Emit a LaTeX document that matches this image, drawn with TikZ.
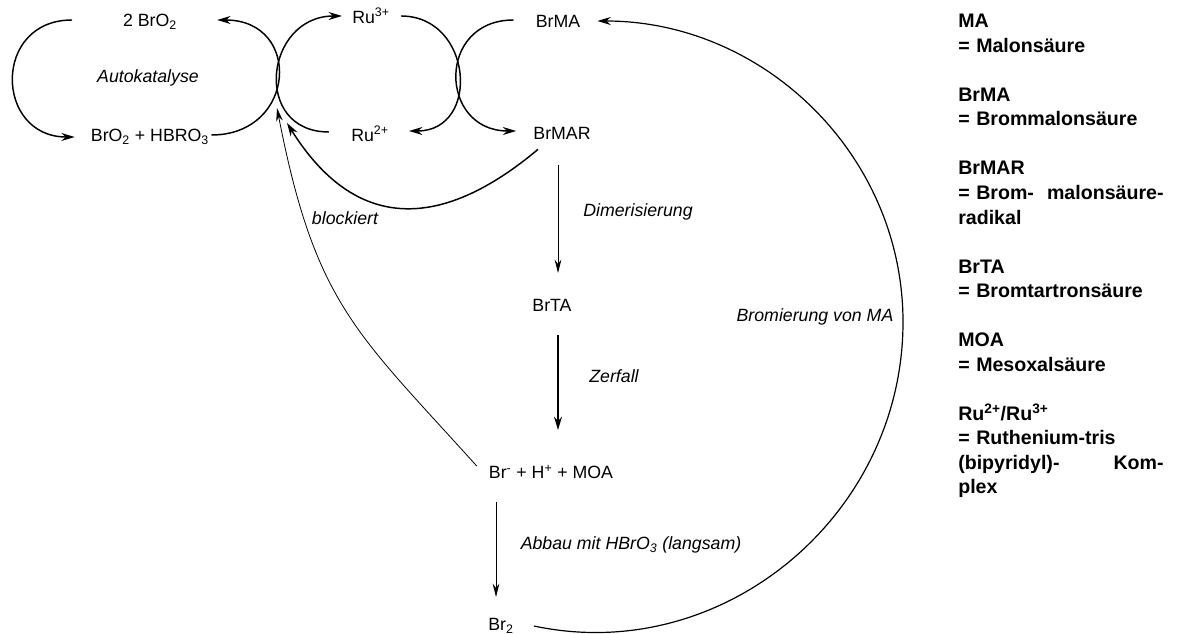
\documentclass[tikz,border=0pt]{standalone}
\usepackage{fontspec}
\setmainfont{Liberation Sans}
\usetikzlibrary{arrows.meta, calc}

\begin{document}
\begin{tikzpicture}[x=0.75pt, y=-0.75pt,
    chem/.style={inner sep=0pt, font=\fontsize{13.3}{16}\selectfont},
    note/.style={inner sep=0pt, font=\fontsize{13.3}{16}\selectfont\itshape},
    cycarr/.style={line width=1.1pt, -{Stealth[length=10pt, width=6pt]}},
    thinarr/.style={line width=0.6pt, -{Stealth[length=10pt, width=5pt]}},
    thickarr/.style={line width=1.1pt, -{Stealth[length=10pt, width=6pt]}},
    glossar/.style={anchor=north west, inner sep=0pt, align=left,
                    text width=154pt, font=\fontsize{14.7}{18.4}\selectfont\bfseries}
  ]
    \useasboundingbox (0,0) rectangle (1185,634);

    % Autokatalyse
    \node[chem] (two) at (150,22) {2 BrO\textsubscript{2}};
    \node[note] (auto) at (148,78) {Autokatalyse};
    \node[chem] (hbro) at (150,137) {BrO\textsubscript{2} + HBRO\textsubscript{3}};

    % Ruthenium
    \node[chem] (ruiii) at (371,16) {Ru\textsuperscript{3+}};
    \node[chem] (ruii) at (370,134) {Ru\textsuperscript{2+}};

    % Malonsaeure-Zweig
    \node[chem] (brma) at (558,21) {BrMA};
    \node[chem] (brmar) at (562,133) {BrMAR};
    \node[note] (block) at (345,218) {blockiert};
    \node[note] (dimer) at (638,212) {Dimerisierung};
    \node[chem] (brta) at (552,305) {BrTA};
    \node[note] (zerf) at (614,376) {Zerfall};
    \node[chem] (moa) at (551,472) {Br\textsuperscript{-} + H\textsuperscript{+} + MOA};
    \node[note] (abbau) at (631,545) {Abbau mit HBrO\textsubscript{3} (langsam)};
    \node[chem] (brtwo) at (501,626) {Br\textsubscript{2}};
    \node[note] (brom) at (815,317) {Bromierung von MA};

    \coordinate (knot) at (277,78);
    \coordinate (rim) at (903,322);

    % Kreise
    \draw[cycarr] ($(two)+(-78,-2)$) to[out=180, in=180, distance=60pt]
      ($(hbro.west)+(-16,0)$);
    \draw[cycarr] ($(hbro.east)+(2,-2)$) to[out=0, in=0, distance=64pt]
      ($(two.east)+(40,-2)$);
    \draw[cycarr] ($(ruii.west)+(-22,-2)$) to[out=180, in=180, distance=58pt]
      ($(ruiii.west)+(-10,0)$);
    \draw[cycarr] ($(ruiii.east)+(11,0)$) to[out=0, in=0, distance=54pt]
      ($(ruii.east)+(20,-3)$);
    \draw[cycarr] ($(brma.west)+(-22,-1)$) to[out=180, in=180, distance=58pt]
      ($(brmar.west)+(-17,-2)$);

    % Rueckkopplung
    \draw[cycarr] ($(brmar.south)+(-24,10)$) to[out=-140, in=-58, distance=96pt]
      ($(knot)+(10,45)$);
    \draw[thinarr] ($(moa.west)+(-12,-6)$)
      to[out=132, in=-79, out distance=135pt, in distance=150pt] ($(knot)+(0,30)$);

    % Abbau
    \draw[thinarr] ($(brmar)+(-4,32)$) -- ($(brta)+(6,-32)$);
    \draw[thickarr] ($(brta)+(6,30)$) -- ($(moa)+(7,-42)$);
    \draw[thinarr] ($(moa)+(-55,30)$) -- ($(brtwo)+(-5,-29)$);
    \draw[line width=0.9pt, -{Stealth[length=10pt, width=6pt]}]
      ($(brtwo.east)+(20,0)$) to[out=-12, in=-90, distance=145pt] (rim)
      to[out=90, in=0, distance=125pt] ($(brma.east)+(17,0)$);

    % Legende
    \node[glossar] (legende) at (958,14) {MA\\
      = Malonsäure\\[18.4pt]
      BrMA\\
      = Brommalonsäure\\[18.4pt]
      BrMAR\\
      \makebox[154pt][l]{= Brom-\hfill malonsäure-}\\
      radikal\\[18.4pt]
      BrTA\\
      = Bromtartronsäure\\[18.4pt]
      MOA\\
      = Mesoxalsäure\\[18.4pt]
      Ru\textsuperscript{2+}/Ru\textsuperscript{3+}\\
      = Ruthenium-tris\\
      \makebox[154pt][l]{(bipyridyl)-\hfill Kom-}\\
      plex};
\end{tikzpicture}
\end{document}
